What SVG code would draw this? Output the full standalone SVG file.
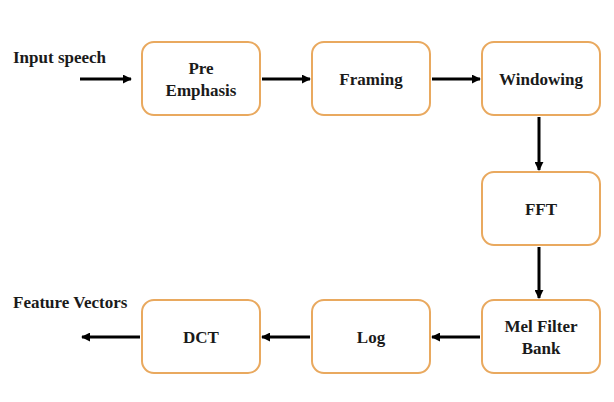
<svg xmlns="http://www.w3.org/2000/svg" width="614" height="402" viewBox="0 0 614 402">
<style>
.box{fill:#fff;stroke:#E9A95F;stroke-width:2}
text{font-family:'Liberation Serif','DejaVu Serif',serif;font-weight:bold;font-size:17px;fill:#1a1a1a}
.t{text-anchor:middle}
.c{stroke:#000;stroke-width:3;fill:none;marker-end:url(#ah)}
</style>
<defs>
<marker id="ah" viewBox="0 0 10 10" refX="9" refY="5" markerWidth="3" markerHeight="3" orient="auto" markerUnits="strokeWidth">
<path d="M0,0 L10,5 L0,10 z" fill="#000"/>
</marker>
</defs>
<rect width="614" height="402" fill="#fff"/>
<text x="13" y="63">Input speech</text>
<text x="13" y="308">Feature Vectors</text>
<g id="pre"><rect class="box" x="142" y="42" width="118" height="73" rx="12"/><text class="t" x="201" y="74">Pre</text><text class="t" x="201" y="96">Emphasis</text></g>
<g id="framing"><rect class="box" x="312" y="42" width="118" height="73" rx="12"/><text class="t" x="371" y="85">Framing</text></g>
<g id="windowing"><rect class="box" x="482" y="42" width="118" height="73" rx="12"/><text class="t" x="541" y="85">Windowing</text></g>
<g id="fft"><rect class="box" x="482" y="172" width="118" height="73" rx="12"/><text class="t" x="541" y="215">FFT</text></g>
<g id="mel"><rect class="box" x="482" y="300" width="118" height="73" rx="12"/><text class="t" x="541" y="332">Mel Filter</text><text class="t" x="541" y="354">Bank</text></g>
<g id="log"><rect class="box" x="312" y="300" width="118" height="73" rx="12"/><text class="t" x="371" y="343">Log</text></g>
<g id="dct"><rect class="box" x="142" y="300" width="118" height="73" rx="12"/><text class="t" x="201" y="343">DCT</text></g>
<g id="connectors">
<line class="c" x1="80" y1="79" x2="131" y2="79"/>
<line class="c" x1="262" y1="79" x2="310" y2="79"/>
<line class="c" x1="432" y1="79" x2="480" y2="79"/>
<line class="c" x1="539" y1="117" x2="539" y2="170"/>
<line class="c" x1="539" y1="247" x2="539" y2="298"/>
<line class="c" x1="480" y1="337" x2="432" y2="337"/>
<line class="c" x1="310" y1="337" x2="262" y2="337"/>
<line class="c" x1="140" y1="337" x2="82" y2="337"/>
</g>
</svg>
